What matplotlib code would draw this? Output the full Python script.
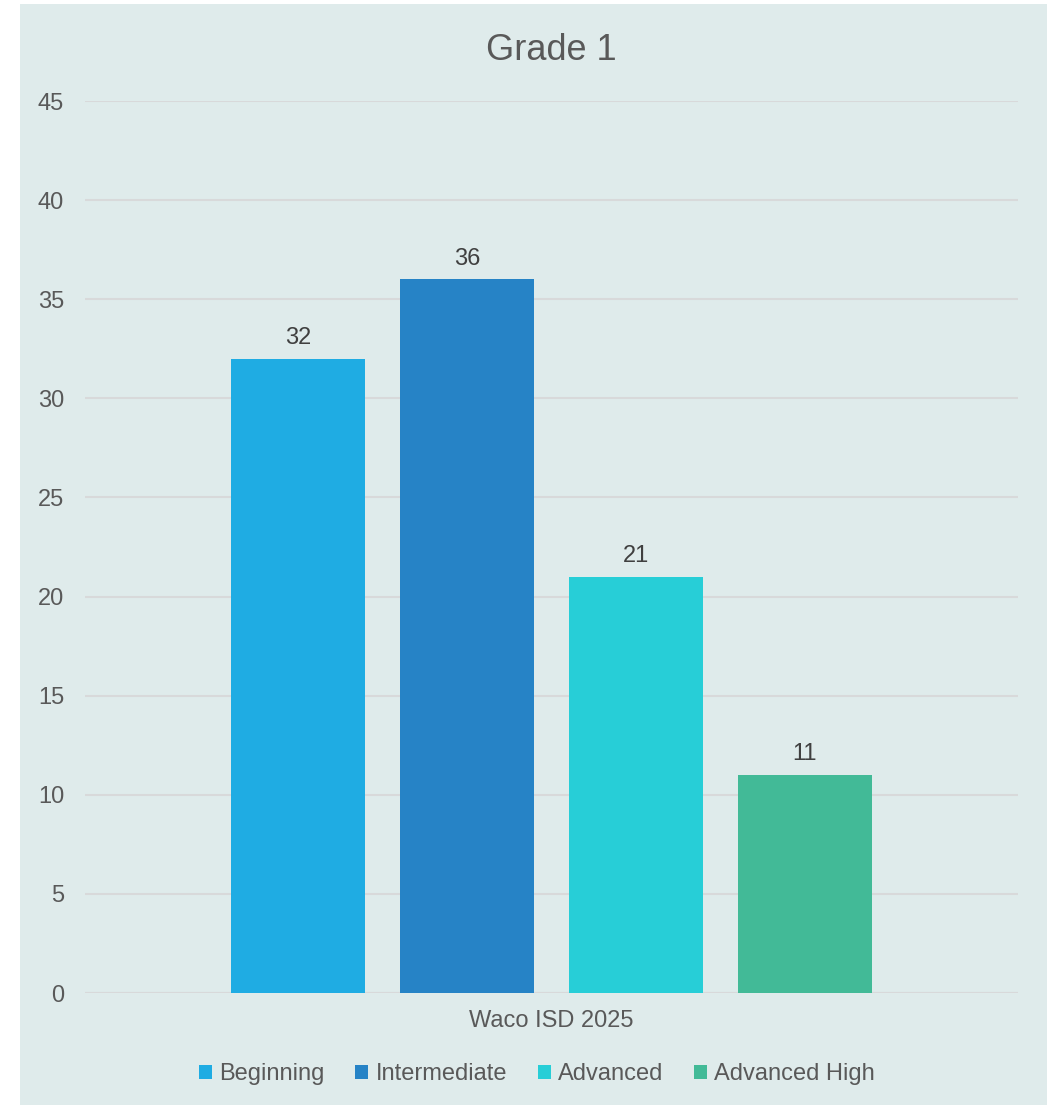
import matplotlib.pyplot as plt
from matplotlib.patches import Rectangle

# grade 1 proficiency counts, Waco ISD 2025
levels = ['Beginning', 'Intermediate', 'Advanced', 'Advanced High']
counts = [32, 36, 21, 11]
colors = ['#1FACE3', '#2683C6', '#27CED7', '#42BA97']
category = 'Waco ISD 2025'
y_ticks = [0, 5, 10, 15, 20, 25, 30, 35, 40, 45]

plt.rcParams['font.family'] = ['Liberation Sans', 'DejaVu Sans']

bg = '#DFEBEB'
text_grey = '#595959'
grid_grey = '#D8D9DA'

fig = plt.figure(figsize=(10.53, 11.05), dpi=100)
fig.patch.set_facecolor('white')
fig.patches.append(Rectangle((20 / 1053, 0), 1027 / 1053, 1101 / 1105,
                             transform=fig.transFigure, facecolor=bg,
                             edgecolor='none', zorder=-10))

ax = fig.add_axes([85 / 1053, 1 - 993 / 1105, 933 / 1053, 892 / 1105])
ax.patch.set_alpha(0)

width = 134 / 933
step = 169 / 933
for i, (lvl, val, col) in enumerate(zip(levels, counts, colors)):
    x = (i - 1.5) * step
    b = ax.bar(x, val, width=width, color=col, label=lvl, zorder=3)
    ax.bar_label(b, labels=[str(val)], padding=7, fontsize=17, color='#404040')

ax.set_xlim(-0.5, 0.5)
ax.set_ylim(0, 45)
ax.set_yticks(y_ticks)
ax.set_xticks([0])
ax.set_xticklabels([category])
ax.tick_params(axis='y', length=0, pad=15, labelsize=17, labelcolor=text_grey)
ax.tick_params(axis='x', length=0, pad=12, labelsize=17, labelcolor=text_grey)
ax.yaxis.grid(True, color=grid_grey, linewidth=1.5, zorder=0)
ax.set_axisbelow(True)
for s in ax.spines.values():
    s.set_visible(False)
ax.axhline(0, color=grid_grey, linewidth=1.5, zorder=2)

fig.text(551.5 / 1053, 1 - 50 / 1105, 'Grade 1', ha='center', va='center',
         fontsize=26, color=text_grey)

leg = ax.legend(loc='center', bbox_to_anchor=(537 / 1053, 1 - 1074 / 1105),
                bbox_transform=fig.transFigure, ncol=4, frameon=False,
                fontsize=17, handlelength=0.55, handleheight=0.55,
                handletextpad=0.3, columnspacing=1.3, labelcolor=text_grey)

fig.savefig('out.png', dpi=100)
